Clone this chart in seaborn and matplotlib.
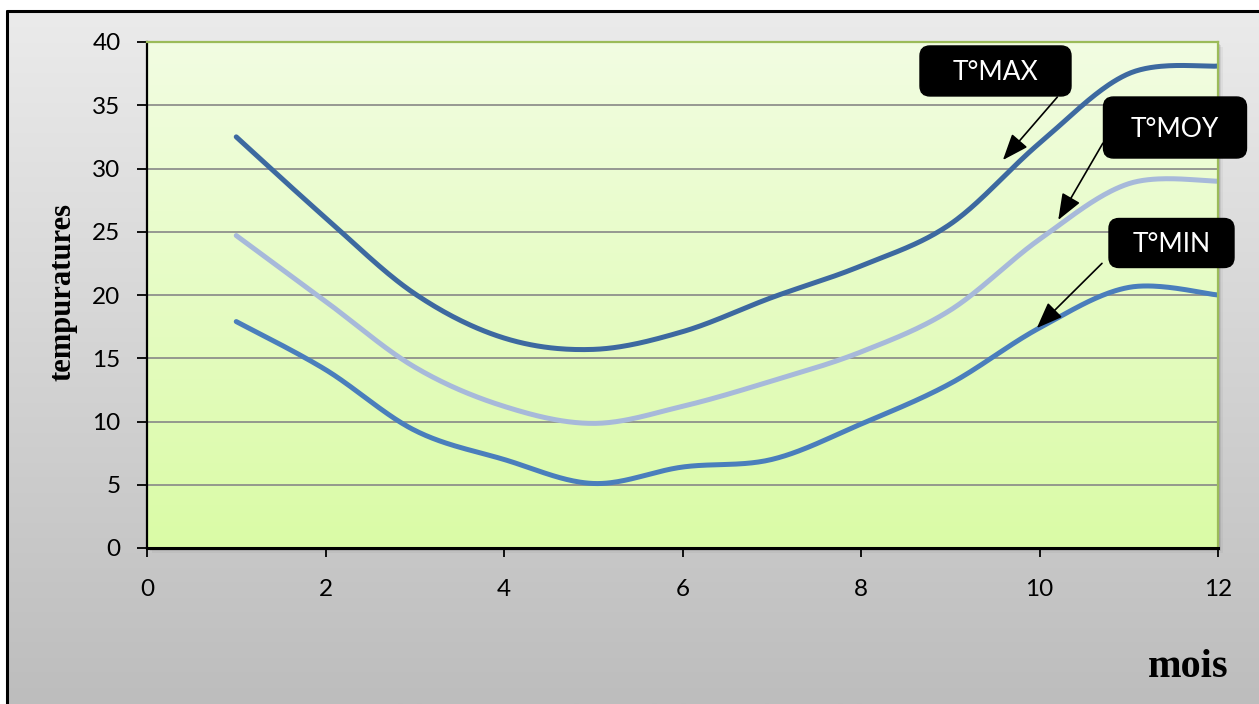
import numpy as np
import pandas as pd
import matplotlib
matplotlib.use("Agg")
import matplotlib.pyplot as plt
import matplotlib.transforms as mtransforms
from matplotlib.patches import FancyBboxPatch, Rectangle
from matplotlib.colors import LinearSegmentedColormap
from matplotlib.lines import Line2D
import seaborn as sns

# Monthly temperatures
months = [1, 2, 3, 4, 5, 6, 7, 8, 9, 10, 11, 12]
t_max = [32.5, 26.1, 20.1, 16.6, 15.7, 17.1, 19.8, 22.3, 25.6, 32.0, 37.5, 38.1]
t_moy = [24.7, 19.5, 14.3, 11.2, 9.85, 11.2, 13.2, 15.5, 18.8, 24.4, 28.8, 29.0]
t_min = [17.9, 14.1, 9.3, 7.0, 5.1, 6.4, 7.0, 9.8, 13.0, 17.4, 20.6, 20.0]
series_names = ["T°MAX", "T°MOY", "T°MIN"]
x_ticks = [0, 2, 4, 6, 8, 10, 12]
y_ticks = [0, 5, 10, 15, 20, 25, 30, 35, 40]
x_label = "mois"
y_label = "tempuratures"

colors = {"T°MAX": "#3d69a0", "T°MOY": "#a7b9da", "T°MIN": "#4a7ebc"}


def smooth(xs, ys, n=40):
    """Smoothed curve through the points (cubic Bezier segments, Catmull-Rom tangents)."""
    xs = np.asarray(xs, float)
    ys = np.asarray(ys, float)
    px = np.concatenate([[xs[0]], xs, [xs[-1]]])
    py = np.concatenate([[ys[0]], ys, [ys[-1]]])
    out_x, out_y = [], []
    t = np.linspace(0, 1, n, endpoint=False)
    for i in range(1, len(px) - 2):
        p0 = np.array([px[i], py[i]])
        p3 = np.array([px[i + 1], py[i + 1]])
        c1 = p0 + (np.array([px[i + 1], py[i + 1]]) - np.array([px[i - 1], py[i - 1]])) / 6
        c2 = p3 - (np.array([px[i + 2], py[i + 2]]) - np.array([px[i], py[i]])) / 6
        b = ((1 - t) ** 3)[:, None] * p0 + (3 * (1 - t) ** 2 * t)[:, None] * c1 \
            + (3 * (1 - t) * t ** 2)[:, None] * c2 + (t ** 3)[:, None] * p3
        out_x.extend(b[:, 0])
        out_y.extend(b[:, 1])
    out_x.append(xs[-1])
    out_y.append(ys[-1])
    return out_x, out_y


frames = []
for name, vals in zip(series_names, [t_max, t_moy, t_min]):
    sx, sy = smooth(months, vals)
    frames.append(pd.DataFrame({"mois": sx, "temp": sy, "serie": name}))
df = pd.concat(frames, ignore_index=True)

sns.set_theme(style="white")
plt.rcParams["font.family"] = ["Lato", "DejaVu Sans"]

W, H = 1259, 704
fig = plt.figure(figsize=(W / 100, H / 100), dpi=100)
fig.patch.set_facecolor("white")

# Gray gradient panel with a black frame
left_px, top_px = 7, 11
bg = fig.add_axes([left_px / W, 0, 1 - left_px / W, 1 - top_px / H])
bg.set_zorder(0)
bg.set_axis_off()
grad = np.linspace(0, 1, 256)[:, None]
gray_cmap = LinearSegmentedColormap.from_list("panel", ["#ebebeb", "#bdbdbd"])
bg.imshow(grad, aspect="auto", cmap=gray_cmap, extent=[0, 1, 0, 1], origin="upper")
fig.add_artist(Line2D([left_px / W, left_px / W], [0, 1 - top_px / H],
                      transform=fig.transFigure, color="black", lw=2.2, zorder=1))
fig.add_artist(Line2D([left_px / W, 1], [1 - top_px / H, 1 - top_px / H],
                      transform=fig.transFigure, color="black", lw=2.2, zorder=1))

ax_l, ax_r, ax_t, ax_b = 147, 1218, 42, 548

# soft shadow behind the plot area
for k, a in enumerate([0.10, 0.07, 0.04]):
    off = (k + 1) * 1.5
    fig.add_artist(Rectangle(((ax_l + off) / W, 1 - (ax_b + off) / H),
                             (ax_r - ax_l) / W, (ax_b - ax_t) / H,
                             transform=fig.transFigure, facecolor="black",
                             alpha=a, edgecolor="none", zorder=1))

ax = fig.add_axes([ax_l / W, 1 - ax_b / H, (ax_r - ax_l) / W, (ax_b - ax_t) / H])
ax.set_zorder(3)
ax.set_xlim(0, 12)
ax.set_ylim(0, 40)
green_cmap = LinearSegmentedColormap.from_list("plotbg", ["#f2fde2", "#dafba6"])
ax.imshow(grad, aspect="auto", cmap=green_cmap, extent=[0, 12, 0, 40],
          origin="upper", zorder=0)

for yv in y_ticks[1:-1]:
    ax.axhline(yv, color="#878787", lw=1.2, zorder=1)

sns.lineplot(data=df, x="mois", y="temp", hue="serie", units="serie",
             estimator=None, sort=False, palette=colors, lw=3.6,
             legend=False, ax=ax, zorder=3)
for line in ax.lines:
    line.set_solid_capstyle("round")

ax.set_xticks(x_ticks)
ax.set_yticks(y_ticks)
ax.tick_params(axis="y", direction="out", length=7, width=1.3, color="black",
               labelsize=17.5, pad=12, left=True)
ax.tick_params(axis="x", direction="out", length=6.5, width=1.3, color="black",
               labelsize=17.5, pad=16, bottom=True)
for lab in ax.get_xticklabels() + ax.get_yticklabels():
    lab.set_color("black")

ax.spines["left"].set_color("black")
ax.spines["left"].set_linewidth(1.6)
ax.spines["bottom"].set_color("black")
ax.spines["bottom"].set_linewidth(2.2)
ax.spines["top"].set_color("#9bbb59")
ax.spines["top"].set_linewidth(1.6)
ax.spines["right"].set_color("#9bbb59")
ax.spines["right"].set_linewidth(1.6)
for s in ax.spines.values():
    s.set_zorder(4)

ax.set_ylabel(y_label, fontsize=22, fontweight="bold",
              family=["Liberation Serif", "DejaVu Serif"], color="black")
ax.yaxis.set_label_coords(-0.0645, 0.505)
ax.set_xlabel(x_label, fontsize=29, fontweight="bold",
              family=["Liberation Serif", "DejaVu Serif"], color="black")
ax.xaxis.set_label_coords(0.972, -0.20)

# Callout boxes with arrows pointing at each curve
callouts = [
    # label, box centre, box size (in), arrow start, arrow end
    ("T°MAX", (9.507, 37.71), (1.51, 0.50), (10.20, 35.65), (9.59, 30.67)),
    ("T°MOY", (11.518, 33.24), (1.43, 0.61), (10.71, 32.0), (10.21, 25.93)),
    ("T°MIN", (11.479, 24.11), (1.25, 0.49), (10.70, 22.5), (9.97, 17.39)),
]
for label, (cx, cy), (bw, bh), start, end in callouts:
    ax.annotate("", xy=end, xytext=start, zorder=6,
                arrowprops=dict(arrowstyle="-|>,head_length=0.9,head_width=0.35",
                                color="black", lw=1.2, shrinkA=0, shrinkB=0,
                                mutation_scale=18), annotation_clip=False)
    trans = fig.dpi_scale_trans + mtransforms.ScaledTranslation(cx, cy, ax.transData)
    box = FancyBboxPatch((-bw / 2, -bh / 2), bw, bh,
                         boxstyle="round,pad=0,rounding_size=0.1",
                         facecolor="black", edgecolor="black", lw=1,
                         transform=trans, clip_on=False, zorder=7)
    ax.add_patch(box)
    ax.annotate(label, xy=(cx, cy), xytext=(0, -6.8), textcoords="offset points",
                ha="center", va="baseline", color="white", fontsize=19,
                zorder=8, annotation_clip=False)

fig.savefig("out.png", dpi=100)
